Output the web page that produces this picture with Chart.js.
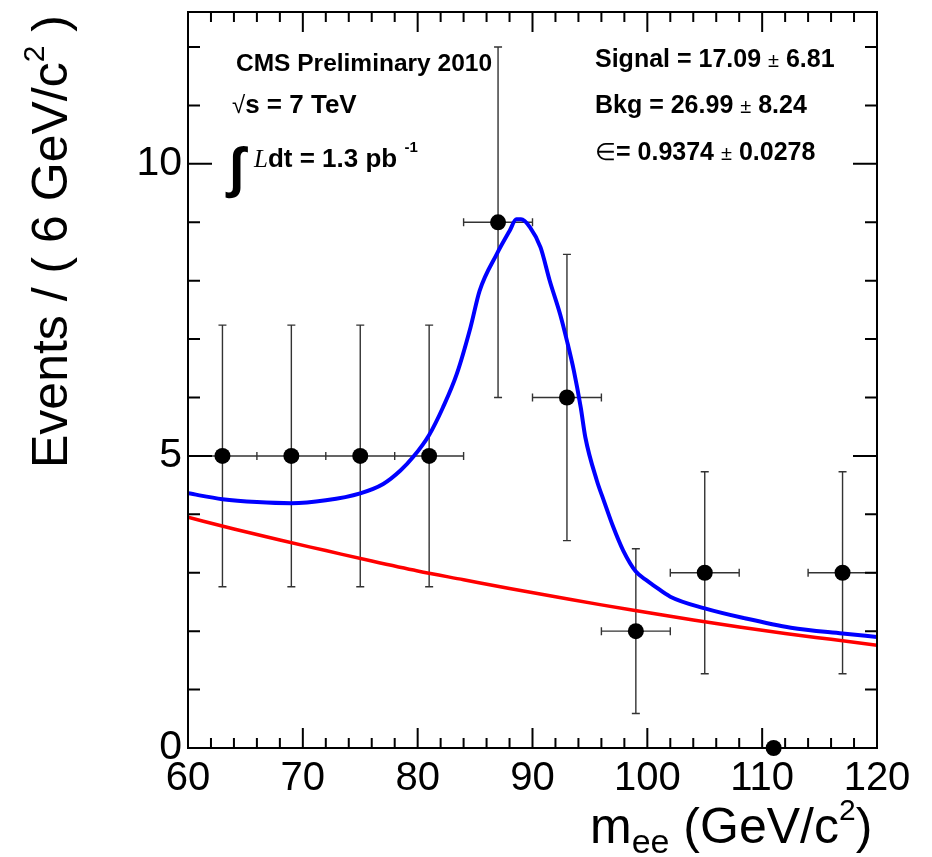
<!DOCTYPE html>
<html lang="en">
<head>
  <meta charset="UTF-8" />
  <title>m_ee fit</title>
  <script src="https://cdn.jsdelivr.net/npm/chart.js"></script>
  <style>
    html, body { margin: 0; padding: 0; background: #fff; }
    #wrap { width: 932px; height: 857px; }
  </style>
</head>
<body>
<div id="wrap"><canvas id="massChart" width="932" height="857"></canvas></div>
<script>
  // binned data, 6 GeV bins
  const binCenters = [63, 69, 75, 81, 87, 93, 99, 105, 111, 117];
  const counts     = [5, 5, 5, 5, 9, 6, 2, 3, 0, 3];
  const countErr   = [2.24, 2.24, 2.24, 2.24, 3.0, 2.45, 1.41, 1.73, 0, 1.73];
  const binHalf    = [3, 3, 3, 3, 3, 3, 3, 3, 0, 3];

  // signal + background fit (blue)
  const totalX = [60, 63, 66, 69, 72, 75, 77, 78.5, 79.6, 81, 82.2, 83.4, 84.6, 85.4, 86.9, 88, 88.6, 89, 89.8,
                  90.7, 91.5, 92.4, 93, 93.6, 94.2, 94.6, 95.6, 96.2, 97, 97.9, 99, 100, 100.5, 102, 105, 108.5,
                  112.5, 117, 120];
  const totalY = [4.36, 4.26, 4.21, 4.19, 4.24, 4.36, 4.52, 4.75, 4.98, 5.36, 5.83, 6.40, 7.20, 7.83, 8.46, 8.85,
                  9.05, 9.05, 8.91, 8.57, 8.00, 7.43, 6.97, 6.46, 5.83, 5.32, 4.58, 4.24, 3.80, 3.38, 3.02, 2.86,
                  2.79, 2.59, 2.39, 2.22, 2.06, 1.96, 1.90];

  // background only (red)
  const bkgX = [60, 64, 68, 72, 76, 80, 84, 88, 92, 96, 100, 104, 108, 112, 116, 120];
  const bkgY = [3.95, 3.75, 3.56, 3.38, 3.20, 3.03, 2.88, 2.73, 2.59, 2.45, 2.32, 2.19, 2.07, 1.96, 1.86, 1.76];

  const yTicks = [0, 5, 10];
  const xMajor = 10, xMinor = 2;
  const yMajor = 5, yMinor = 1;

  const SANS = "'Liberation Sans', Arial, sans-serif";
  Chart.defaults.font.family = SANS;

  function drawRuns(ctx, x, y, runs) {
    runs.forEach(r => {
      ctx.font = r.font;
      ctx.fillText(r.text, x, y + (r.dy || 0));
      x += ctx.measureText(r.text).width;
    });
  }

  // error bars under the markers
  const errorBars = {
    id: 'errorBars',
    beforeDatasetsDraw(chart) {
      const { ctx, scales: { x, y } } = chart;
      ctx.save();
      ctx.strokeStyle = '#333';
      ctx.lineWidth = 1.4;
      ctx.beginPath();
      binCenters.forEach((c, i) => {
        const px = x.getPixelForValue(c);
        const py = y.getPixelForValue(counts[i]);
        if (countErr[i] > 0) {
          const lo = y.getPixelForValue(counts[i] - countErr[i]);
          const hi = y.getPixelForValue(counts[i] + countErr[i]);
          ctx.moveTo(px, lo); ctx.lineTo(px, hi);
          ctx.moveTo(px - 4, lo); ctx.lineTo(px + 4, lo);
          ctx.moveTo(px - 4, hi); ctx.lineTo(px + 4, hi);
        }
        if (binHalf[i] > 0) {
          const l = x.getPixelForValue(c - binHalf[i]);
          const r = x.getPixelForValue(c + binHalf[i]);
          ctx.moveTo(l, py); ctx.lineTo(r, py);
          ctx.moveTo(l, py - 4); ctx.lineTo(l, py + 4);
          ctx.moveTo(r, py - 4); ctx.lineTo(r, py + 4);
        }
      });
      ctx.stroke();
      ctx.restore();
    }
  };

  // ROOT style frame with inward ticks, titles and the fit text
  const frame = {
    id: 'frame',
    afterDraw(chart) {
      const { ctx, chartArea: a, scales: { x, y } } = chart;
      ctx.save();
      ctx.strokeStyle = '#000';
      ctx.lineWidth = 2;
      ctx.strokeRect(a.left, a.top, a.right - a.left, a.bottom - a.top);
      ctx.beginPath();
      for (let v = x.min; v <= x.max; v += xMinor) {
        const px = x.getPixelForValue(v);
        const len = v % xMajor === 0 ? 20 : 10;
        ctx.moveTo(px, a.bottom); ctx.lineTo(px, a.bottom - len);
        ctx.moveTo(px, a.top); ctx.lineTo(px, a.top + len);
      }
      for (let v = 0; v <= y.max; v += yMinor) {
        const py = y.getPixelForValue(v);
        const len = v % yMajor === 0 ? 24 : 12;
        ctx.moveTo(a.left, py); ctx.lineTo(a.left + len, py);
        ctx.moveTo(a.right, py); ctx.lineTo(a.right - len, py);
      }
      ctx.stroke();

      ctx.fillStyle = '#000';
      ctx.textBaseline = 'alphabetic';
      ctx.textAlign = 'left';

      // x title
      drawRuns(ctx, 590, 843, [
        { text: 'm', font: '50px ' + SANS },
        { text: 'ee', font: '34px ' + SANS, dy: 10 },
        { text: ' (GeV/c', font: '50px ' + SANS },
        { text: '2', font: '30px ' + SANS, dy: -23 },
        { text: ')', font: '50px ' + SANS }
      ]);

      // y title
      ctx.save();
      ctx.translate(67, 468);
      ctx.rotate(-Math.PI / 2);
      drawRuns(ctx, 0, 0, [
        { text: 'Events / ( 6 GeV/c', font: '50px ' + SANS },
        { text: '2', font: '30px ' + SANS, dy: -23 },
        { text: ' )', font: '50px ' + SANS }
      ]);
      ctx.restore();

      const B = 'bold 24.5px ' + SANS;
      const B2 = 'bold 26px ' + SANS;
      ctx.font = B;
      ctx.fillText('CMS Preliminary 2010', 236, 71);
      drawRuns(ctx, 232, 113, [
        { text: '\u221A', font: '24px ' + SANS },
        { text: 's = 7 TeV', font: B2 }
      ]);
      drawRuns(ctx, 229, 186, [{ text: '\u222B', font: 'bold 55px ' + SANS }]);
      drawRuns(ctx, 254, 167, [
        { text: 'L', font: "italic 25px 'Liberation Serif', serif" },
        { text: 'dt = 1.3 pb ', font: B2 },
        { text: '-1', font: 'bold 15px ' + SANS, dy: -15 }
      ]);

      const R = 'bold 25px ' + SANS;
      drawRuns(ctx, 595, 67, [
        { text: 'Signal = 17.09 ', font: R },
        { text: '\u00B1', font: '20px ' + SANS },
        { text: ' 6.81', font: R }
      ]);
      drawRuns(ctx, 595, 113, [
        { text: 'Bkg = 26.99 ', font: R },
        { text: '\u00B1', font: '20px ' + SANS },
        { text: ' 8.24', font: R }
      ]);
      drawRuns(ctx, 595, 160, [
        { text: '\u2208', font: '24px ' + SANS },
        { text: '= 0.9374 ', font: R },
        { text: '\u00B1', font: '20px ' + SANS },
        { text: ' 0.0278', font: R }
      ]);
      ctx.restore();
    }
  };

  const ctx = document.getElementById('massChart').getContext('2d');
  new Chart(ctx, {
    type: 'scatter',
    data: {
      datasets: [
        {
          label: 'Background',
          data: bkgX.map((v, i) => ({ x: v, y: bkgY[i] })),
          showLine: true,
          borderColor: '#ff0000',
          borderWidth: 3.5,
          pointRadius: 0,
          cubicInterpolationMode: 'monotone',
          order: 2
        },
        {
          label: 'Signal + Background',
          data: totalX.map((v, i) => ({ x: v, y: totalY[i] })),
          showLine: true,
          borderColor: '#0000ff',
          borderWidth: 4,
          pointRadius: 0,
          cubicInterpolationMode: 'monotone',
          order: 1
        },
        {
          label: 'Data',
          data: binCenters.map((v, i) => ({ x: v, y: counts[i] })),
          showLine: false,
          pointRadius: 8,
          pointBackgroundColor: '#000',
          pointBorderWidth: 0,
          clip: false,
          order: 3
        }
      ]
    },
    options: {
      responsive: false,
      animation: false,
      layout: { padding: { top: 12, right: 55, left: 0, bottom: 0 } },
      plugins: { legend: { display: false }, tooltip: { enabled: false } },
      scales: {
        x: {
          type: 'linear',
          min: 60,
          max: 120,
          grid: { display: false, drawTicks: false },
          border: { display: false },
          ticks: { stepSize: xMajor, color: '#000', font: { size: 40 }, padding: 7, maxRotation: 0, autoSkip: false },
          afterFit(s) { s.height = 109; s.paddingLeft = 0; s.paddingRight = 0; }
        },
        y: {
          min: 0,
          max: 12.6,
          grid: { display: false, drawTicks: false },
          border: { display: false },
          afterBuildTicks(s) { s.ticks = yTicks.map(v => ({ value: v })); },
          ticks: { color: '#000', font: { size: 41 }, padding: 6 },
          afterFit(s) { s.width = 188; s.paddingTop = 0; s.paddingBottom = 0; }
        }
      }
    },
    plugins: [errorBars, frame]
  });
</script>
</body>
</html>
